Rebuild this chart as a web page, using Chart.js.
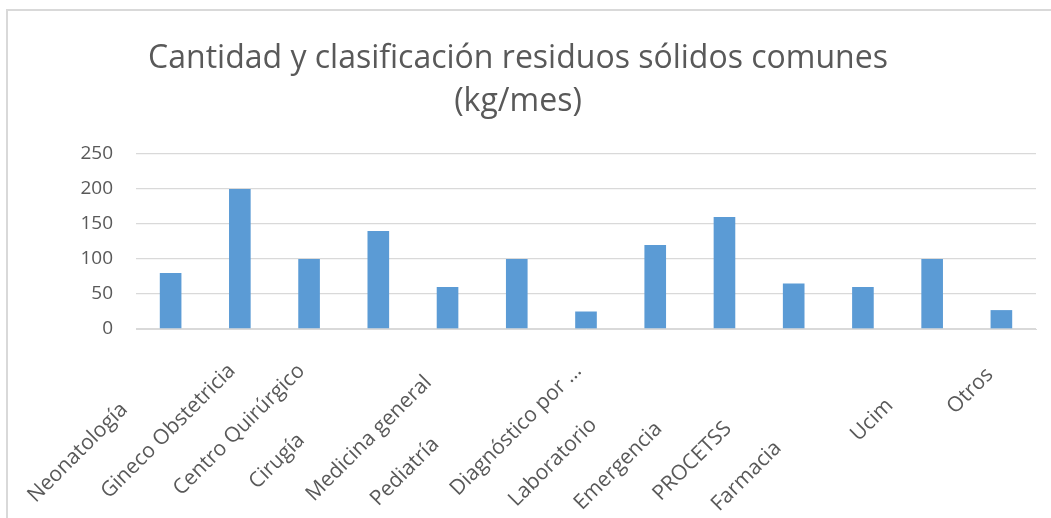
<!DOCTYPE html>
<html><head><meta charset="utf-8">
<script src="https://cdn.jsdelivr.net/npm/chart.js@4.4.1/dist/chart.umd.min.js"></script>
<style>
html,body{margin:0;padding:0;background:#fff;overflow:hidden;width:1051px;height:518px;}
#frame{position:absolute;left:6px;top:9px;width:1100px;height:600px;border-top:2px solid #D9D9D9;border-left:2px solid #D9D9D9;}
canvas{position:absolute;left:0;top:0;}
</style></head>
<body>
<div id="frame"></div>
<canvas id="c" width="1051" height="518"></canvas>
<script>
const categories = ['Neonatología','Gineco Obstetricia','Centro Quirúrgico','Cirugía','Medicina general','Pediatría','Diagnóstico por ...','Laboratorio','Emergencia','PROCETSS','Farmacia','Ucim','Otros'];
const values = [80, 200, 100, 140, 60, 100, 25, 120, 160, 65, 60, 100, 27];
const yTickValues = [0, 50, 100, 150, 200, 250];
const titleLines = ['Cantidad y clasificación residuos sólidos comunes', '(kg/mes)'];

// layout: how far each rotated category label sits down its diagonal (px)
const labelShiftPx = [64, 10, 10, 110, 29, 113, 10, 89, 92, 95, 120, 62, 17];

const FONT = "'Open Sans', 'DejaVu Sans', sans-serif";
const TEXT = '#595959';
const GRID = '#D9D9D9';
const X_FONT_SIZE = 21;

const mctx = document.createElement('canvas').getContext('2d');
mctx.font = X_FONT_SIZE + 'px ' + FONT;
const SPACE_PX = mctx.measureText(' ').width || 5.5;

new Chart(document.getElementById('c'), {
  type: 'bar',
  data: {
    labels: categories,
    datasets: [{
      data: values,
      backgroundColor: '#5B9BD5',
      borderWidth: 0,
      barPercentage: 0.3125,
      categoryPercentage: 1
    }]
  },
  options: {
    responsive: false,
    devicePixelRatio: 1,
    animation: false,
    layout: { padding: { left: 0, right: 15, top: 0, bottom: 0 } },
    plugins: {
      legend: { display: false },
      tooltip: { enabled: false },
      title: {
        display: true,
        text: titleLines,
        color: TEXT,
        font: { family: FONT, size: 32, weight: 'normal', lineHeight: 1.36 },
        padding: { top: 37, bottom: 30 }
      }
    },
    scales: {
      x: {
        grid: { display: false, drawTicks: false },
        border: { display: true, color: GRID, width: 1 },
        ticks: {
          autoSkip: false,
          minRotation: 45,
          maxRotation: 45,
          padding: 22,
          color: TEXT,
          font: { family: FONT, size: X_FONT_SIZE },
          callback: function (v, i) {
            const n = Math.round(labelShiftPx[i] / SPACE_PX);
            return categories[i] + ' '.repeat(n);
          }
        },
        afterFit: function (s) { s.height = 189; }
      },
      y: {
        min: yTickValues[0],
        max: yTickValues[yTickValues.length - 1],
        grid: { color: GRID, lineWidth: 1.3, drawTicks: false },
        border: { display: false },
        ticks: {
          stepSize: 50,
          padding: 23,
          color: TEXT,
          font: { family: FONT, size: 19 }
        },
        afterBuildTicks: function (s) { s.ticks = yTickValues.map(v => ({ value: v })); },
        afterFit: function (s) { s.width = 136; }
      }
    }
  }
});
</script>
</body></html>
